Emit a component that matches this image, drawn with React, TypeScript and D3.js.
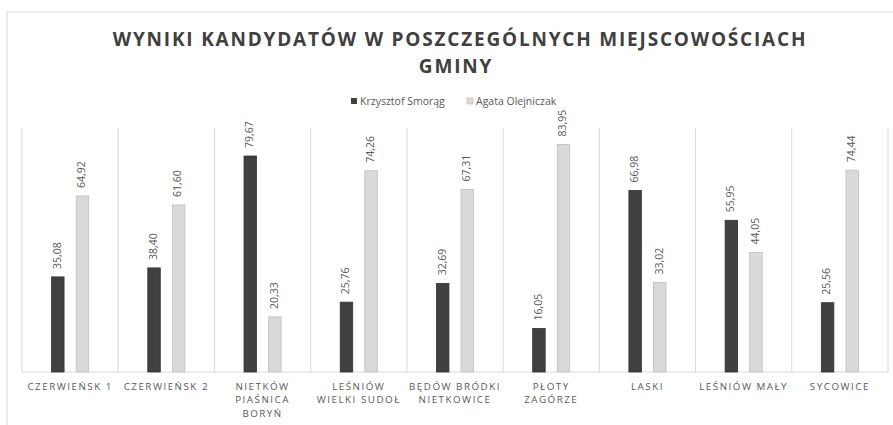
import { useMemo } from 'react';
import * as d3 from 'd3';

// Results per locality (percent of votes)
const categories: string[][] = [
	['CZERWIEŃSK 1'],
	['CZERWIEŃSK 2'],
	['NIETKÓW', 'PIAŚNICA', 'BORYŃ'],
	['LEŚNIÓW', 'WIELKI SUDOŁ'],
	['BĘDÓW BRÓDKI', 'NIETKOWICE'],
	['PŁOTY', 'ZAGÓRZE'],
	['LASKI'],
	['LEŚNIÓW MAŁY'],
	['SYCOWICE'],
];
const smorag = [35.08, 38.4, 79.67, 25.76, 32.69, 16.05, 66.98, 55.95, 25.56];
const olejniczak = [64.92, 61.6, 20.33, 74.26, 67.31, 83.95, 33.02, 44.05, 74.44];
const seriesNames = ['Krzysztof Smorąg', 'Agata Olejniczak'];

const W = 893;
const H = 425;
const FONT = '"Open Sans", sans-serif';
const DARK = '#404040';
const LIGHT = '#d9d9d9';
const GRID = '#d9d9d9';
const TEXT = '#595959';

const fmt = (v: number) => v.toFixed(2).replace('.', ',');

export default function App() {
	const margin = { left: 22, right: 5, top: 128, bottom: 53 };
	const plotBottom = H - margin.bottom;

	const x = useMemo(
		() =>
			d3
				.scaleBand<number>()
				.domain(d3.range(categories.length))
				.range([margin.left, W - margin.right])
				.paddingInner(0)
				.paddingOuter(0),
		[]
	);
	const y = useMemo(() => d3.scaleLinear().domain([0, 90]).range([plotBottom, margin.top]), []);

	const step = x.bandwidth();
	const barW = 12.5;
	const offset = 12.3;

	return (
		<svg
			width={W}
			height={H}
			style={{ position: 'absolute', left: 0, top: 0, background: '#fff' }}
			fontFamily={FONT}
		>
			<rect x={7} y={12} width={W} height={H} fill="#fff" stroke="#d9d9d9" />

			{/* title */}
			<g textAnchor="middle" fontSize={19} fontWeight={700} fill={DARK} letterSpacing={1.8}>
				<text x={460} y={46}>
					WYNIKI KANDYDATÓW W POSZCZEGÓLNYCH MIEJSCOWOŚCIACH
				</text>
				<text x={456} y={72.5}>
					GMINY
				</text>
			</g>

			{/* legend */}
			<g fontSize={10.5} fill={TEXT}>
				<rect x={351} y={98} width={6} height={6} fill={DARK} />
				<text x={360} y={104.5}>
					{seriesNames[0]}
				</text>
				<rect x={467} y={98} width={6} height={6} fill={LIGHT} stroke="#bfbfbf" strokeWidth={0.7} />
				<text x={476} y={104.5}>
					{seriesNames[1]}
				</text>
			</g>

			{/* category separators */}
			{d3.range(categories.length + 1).map((i) => {
				const gx = margin.left + i * step;
				return <line key={i} x1={gx} x2={gx} y1={margin.top} y2={plotBottom} stroke={GRID} strokeWidth={1} />;
			})}
			<line x1={margin.left} x2={W - margin.right} y1={plotBottom} y2={plotBottom} stroke={GRID} strokeWidth={1.2} />

			{/* bars */}
			{categories.map((_, i) => {
				const cx = (x(i) ?? 0) + step / 2;
				const vals = [smorag[i], olejniczak[i]];
				return (
					<g key={i}>
						{vals.map((v, s) => {
							const bx = cx + (s === 0 ? -offset : offset);
							const top = y(v);
							return (
								<g key={s}>
									<rect
										x={bx - barW / 2}
										y={top}
										width={barW}
										height={plotBottom - top}
										fill={s === 0 ? DARK : LIGHT}
										stroke={s === 0 ? '#333' : '#bfbfbf'}
										strokeWidth={0.8}
									/>
									<text
										transform={`translate(${bx},${top - 8}) rotate(-90)`}
										dominantBaseline="middle"
										fontSize={10.5}
										fill={TEXT}
									>
										{fmt(v)}
									</text>
								</g>
							);
						})}
					</g>
				);
			})}

			{/* category labels */}
			{categories.map((lines, i) => {
				const cx = (x(i) ?? 0) + step / 2;
				return (
					<text key={i} textAnchor="middle" fontSize={9.8} fill={TEXT} letterSpacing={1.5}>
						{lines.map((l, j) => (
							<tspan key={j} x={cx} y={389.5 + j * 13.5}>
								{l}
							</tspan>
						))}
					</text>
				);
			})}
		</svg>
	);
}
